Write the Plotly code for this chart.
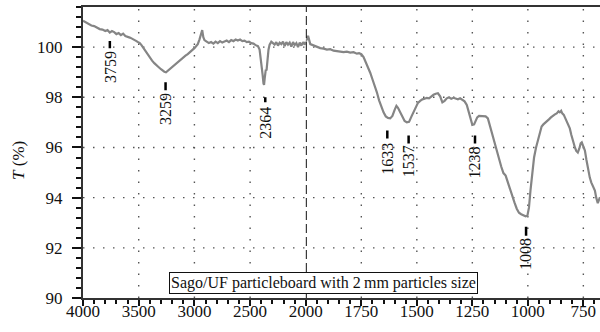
import plotly.graph_objects as go

# ---------------- data ----------------
# high-wavenumber part (4000 -> 2000 cm-1), compressed scale
wn_high = [4000, 3975, 3950, 3925, 3900, 3875, 3850, 3825, 3800, 3780, 3760, 3740, 3720, 3700, 3680,
           3660, 3640, 3620, 3600, 3580, 3560, 3540, 3520, 3500, 3490, 3475, 3460, 3440, 3420, 3400,
           3380, 3360, 3340, 3320, 3300, 3285, 3270, 3255, 3240, 3220, 3200, 3180, 3160, 3140, 3120,
           3100, 3080, 3060, 3040, 3020, 3000, 2985, 2970, 2955, 2940, 2930, 2920, 2910, 2890, 2870,
           2850, 2830, 2810, 2790, 2770, 2750, 2730, 2710, 2690, 2670, 2650, 2630, 2610, 2590, 2570,
           2550, 2530, 2510, 2490, 2470, 2450, 2430, 2415, 2405, 2395, 2388, 2380, 2375, 2368, 2360,
           2352, 2345, 2335, 2325, 2310, 2295, 2280, 2265, 2250, 2235, 2220, 2205, 2190, 2175, 2160,
           2145, 2130, 2115, 2100, 2085, 2070, 2055, 2040, 2025, 2010, 2000]
t_high = [101.05, 100.98, 100.92, 100.86, 100.84, 100.78, 100.72, 100.70, 100.64, 100.68, 100.58, 100.64, 100.60, 100.52, 100.56,
          100.48, 100.54, 100.44, 100.42, 100.38, 100.34, 100.30, 100.24, 100.18, 100.16, 100.08, 99.98, 99.86, 99.68, 99.58,
          99.46, 99.36, 99.26, 99.20, 99.12, 99.06, 99.02, 99.00, 99.06, 99.12, 99.20, 99.26, 99.36, 99.44, 99.52,
          99.58, 99.66, 99.72, 99.82, 99.88, 99.96, 100.04, 100.12, 100.30, 100.50, 100.68, 100.40, 100.28, 100.22, 100.16,
          100.20, 100.14, 100.22, 100.16, 100.24, 100.18, 100.22, 100.26, 100.20, 100.28, 100.24, 100.30, 100.26, 100.30, 100.24,
          100.26, 100.20, 100.22, 100.16, 100.14, 100.08, 100.04, 99.90, 99.60, 99.30, 98.90, 98.55, 98.50, 98.80, 99.08,
          99.10, 99.50, 99.90, 100.10, 100.22, 100.16, 100.10, 100.20, 100.06, 100.18, 100.12, 100.22, 100.04, 100.20, 100.10,
          100.18, 100.02, 100.20, 100.08, 100.16, 100.00, 100.18, 100.06, 100.20, 100.10, 100.22]

# low-wavenumber part (2000 -> 675 cm-1), expanded scale
wn_low = [2000, 1990, 1980, 1965, 1950, 1935, 1920, 1905, 1890, 1875, 1860, 1845, 1830, 1815, 1800,
          1785, 1770, 1760, 1750, 1740, 1730, 1720, 1710, 1700, 1690, 1680, 1670, 1660, 1650, 1640,
          1630, 1620, 1610, 1600, 1592, 1585, 1575, 1565, 1555, 1545, 1535, 1525, 1515, 1505, 1495,
          1485, 1475, 1465, 1455, 1445, 1435, 1425, 1415, 1405, 1395, 1385, 1375, 1365, 1355, 1345,
          1335, 1325, 1315, 1305, 1295, 1285, 1275, 1265, 1258, 1250, 1242, 1235, 1228, 1220, 1210,
          1200, 1190, 1180, 1170, 1160, 1150, 1140, 1130, 1120, 1110, 1100, 1090, 1080, 1070, 1060,
          1050, 1040, 1030, 1020, 1010, 1002, 995, 988, 980, 972, 963, 955, 946, 938, 930,
          922, 914, 905, 896, 887, 878, 870, 862, 856, 850, 845, 838, 833, 825, 818,
          811, 804, 796, 788, 782, 775, 768, 762, 757, 750, 743, 736, 728, 721, 714,
          706, 698, 692, 685, 680, 675]
t_low = [100.22, 100.45, 100.12, 100.06, 100.00, 99.96, 99.94, 99.90, 99.92, 99.86, 99.84, 99.82, 99.80, 99.82, 99.78,
         99.80, 99.74, 99.76, 99.72, 99.60, 99.40, 99.20, 98.98, 98.72, 98.48, 98.20, 97.88, 97.60, 97.40, 97.24,
         97.18, 97.16, 97.26, 97.50, 97.66, 97.58, 97.40, 97.20, 97.06, 97.00, 97.02, 97.22, 97.42, 97.60, 97.78,
         97.86, 97.92, 97.94, 97.98, 97.96, 98.04, 98.10, 98.14, 98.16, 98.04, 97.80, 97.86, 97.96, 98.00, 97.94,
         97.98, 97.96, 97.92, 97.96, 97.88, 97.84, 97.70, 97.40, 97.10, 96.90, 96.92, 97.10, 97.20, 97.26, 97.26,
         97.24, 97.24, 97.16, 96.86, 96.50, 96.16, 95.86, 95.56, 95.24, 94.98, 94.88, 94.60, 94.30, 94.00, 93.80,
         93.56, 93.40, 93.34, 93.30, 93.26, 93.28, 93.60, 94.30, 95.00, 95.60, 96.00, 96.30, 96.66, 96.84, 96.92,
         96.98, 97.02, 97.12, 97.20, 97.28, 97.32, 97.36, 97.44, 97.40, 97.46, 97.36, 97.30, 97.20, 97.04, 96.90,
         96.76, 96.50, 96.20, 96.00, 95.86, 95.80, 95.96, 96.16, 96.20, 96.02, 95.88, 95.50, 95.10, 94.80, 94.60,
         94.40, 94.28, 94.00, 93.78, 93.90, 94.02]

tick_high = [4000, 3500, 3000, 2500, 2000]
tick_low = [1750, 1500, 1250, 1000, 750]
y_ticks = [90, 92, 94, 96, 98, 100]

peak_wn = [3759, 3259, 2364, 1633, 1537, 1238, 1008]
peak_tick_top = [100.24, 98.60, 98.00, 96.68, 96.48, 96.48, 92.84]
peak_tick_bot = [99.96, 98.28, 97.80, 96.36, 96.16, 96.16, 92.48]
peak_label_y = [99.20, 97.52, 97.00, 95.56, 95.44, 95.40, 91.76]

caption = "Sago/UF particleboard with 2\u2009mm particles size"

# ---------------- figure ----------------
SERIF = "Liberation Serif, Times New Roman, serif"
split = 0.431
line_col = "#858585"
grid_col = "#555"

fig = go.Figure()
fig.add_trace(go.Scatter(x=wn_high, y=t_high, mode="lines", xaxis="x", yaxis="y",
                         line=dict(color=line_col, width=2.2), showlegend=False))
fig.add_trace(go.Scatter(x=wn_low, y=t_low, mode="lines", xaxis="x2", yaxis="y",
                         line=dict(color=line_col, width=2.2), showlegend=False))

common_x = dict(
    showline=True, linecolor="#333", linewidth=2, mirror=True,
    ticks="outside", ticklen=6, tickwidth=2, tickcolor="#111",
    showgrid=False, zeroline=False, ticklabelstandoff=-9, automargin=False,
    tickfont=dict(family=SERIF, size=17, color="#111"),
)
fig.update_layout(
    width=600, height=332,
    margin=dict(l=83, r=0, t=7, b=34, autoexpand=False),
    paper_bgcolor="white", plot_bgcolor="white",
    xaxis=dict(domain=[0, split], range=[4000, 2000], tickmode="array",
               tickvals=tick_high, ticktext=[str(v) for v in tick_high],
               minor=dict(dtick=100, tick0=2000, ticks="outside", ticklen=4, tickwidth=2,
                          tickcolor="#111", showgrid=False),
               anchor="y", **common_x),
    xaxis2=dict(domain=[split, 1], range=[2000, 675], tickmode="array",
                tickvals=tick_low, ticktext=[str(v) for v in tick_low],
                minor=dict(dtick=50, tick0=2000, ticks="outside", ticklen=4, tickwidth=2,
                           tickcolor="#111", showgrid=False),
                anchor="y", **common_x),
    yaxis=dict(range=[90, 101.6], tickmode="array", tickvals=y_ticks,
               ticktext=[str(v) for v in y_ticks], automargin=False,
               showline=True, linecolor="#333", linewidth=2,
               ticks="outside", ticklen=9, tickwidth=2, tickcolor="#111",
               ticklabelstandoff=6,
               minor=dict(dtick=0.4, tick0=90, ticks="outside", ticklen=5, tickwidth=2,
                          tickcolor="#111", showgrid=False),
               showgrid=False, zeroline=False,
               tickfont=dict(family=SERIF, size=17, color="#111")),
)

# dotted grid lines at the major ticks
for v in y_ticks[1:]:
    fig.add_shape(type="line", xref="paper", yref="y", x0=0, x1=1, y0=v, y1=v, layer="below",
                  line=dict(color=grid_col, width=1.4, dash="1.5px,8.5px"))
for v in tick_high[1:-1]:
    fig.add_shape(type="line", xref="x", yref="paper", x0=v, x1=v, y0=0, y1=1, layer="below",
                  line=dict(color=grid_col, width=1.4, dash="1.5px,10px"))
for v in tick_low:
    fig.add_shape(type="line", xref="x2", yref="paper", x0=v, x1=v, y0=0, y1=1, layer="below",
                  line=dict(color=grid_col, width=1.4, dash="1.5px,10px"))

# break line at 2000 cm-1
fig.add_shape(type="line", xref="x2", yref="paper", x0=2000, x1=2000, y0=0, y1=1,
              line=dict(color="#111", width=2, dash="9px,4px"))

# peak markers and labels
for wn, yt, yb, yl in zip(peak_wn, peak_tick_top, peak_tick_bot, peak_label_y):
    xr = "x" if wn >= 2000 else "x2"
    fig.add_shape(type="line", xref=xr, yref="y", x0=wn, x1=wn, y0=yb, y1=yt,
                  line=dict(color="#000", width=2.5))
    fig.add_annotation(x=wn, y=yl, xref=xr, yref="y", text=str(wn), showarrow=False,
                       textangle=-90, xanchor="center", yanchor="middle",
                       font=dict(family=SERIF, size=16, color="#111"))

# caption box
fig.add_annotation(x=0.466, y=0.053, xref="paper", yref="paper", text=caption,
                   showarrow=False, xanchor="center", yanchor="middle",
                   font=dict(family=SERIF, size=16, color="#111"),
                   bordercolor="#111", borderwidth=1, borderpad=1, bgcolor="white")

# y-axis title
fig.add_annotation(x=-0.126, y=0.474, xref="paper", yref="paper",
                   text="<i>T</i> (%)", showarrow=False, textangle=-90,
                   xanchor="center", yanchor="middle",
                   font=dict(family=SERIF, size=17, color="#111"))

fig.write_html("out.html")
